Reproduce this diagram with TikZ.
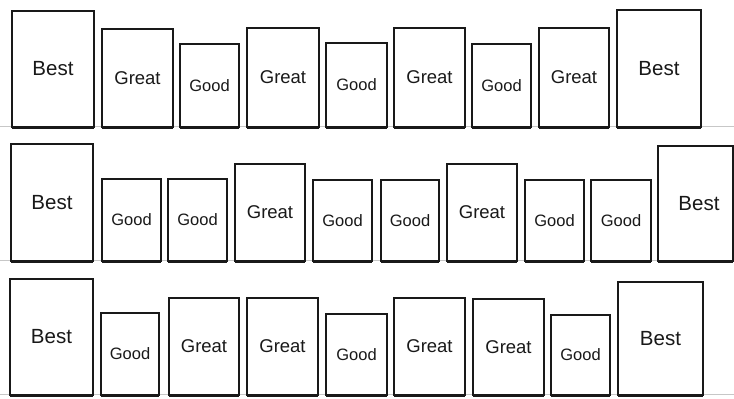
\documentclass[tikz,border=0pt]{standalone}
\usepackage{fontspec}
\setmainfont{Liberation Sans}
\begin{document}
\begin{tikzpicture}[x=1pt,y=-1pt,
  bx/.style={draw=black!90, line width=2.3pt, fill=white, inner sep=0pt, outer sep=0pt, text=black!90},
  best/.style={bx, font=\fontsize{20.5}{24}\selectfont},
  great/.style={bx, font=\fontsize{18.5}{22}\selectfont},
  good/.style={bx, font=\fontsize{16.5}{20}\selectfont},
  shelf/.style={draw=black!22, line width=0.5pt},
  base/.style={draw=black!90, line width=3pt}]
\useasboundingbox (0,0) rectangle (734,399);
\fill[white] (0,0) rectangle (734,399);
% macro: name, x1, x2, top, bottom, style, text
\newcommand\shelfitem[7]{%
  \node[#6, minimum width={(#3-#2)*1pt}, minimum height={(#5-#4)*1pt}] (#1) at ({(#2+#3)/2},{(#4+#5)/2}) {#7};
  \draw[base] (#1.south west) -- (#1.south east);
}
% shelf lines
\draw[shelf] (0,126) -- (734,126);
\draw[shelf] (0,260) -- (734,260);
\draw[shelf] (0,394) -- (734,394);
% row 1
\shelfitem{a1}{12}{94}{11}{127}{best}{Best}
\shelfitem{a2}{102}{173}{29}{127}{great}{Great}
\shelfitem{a3}{180}{239}{44}{127}{good}{Good}
\shelfitem{a4}{247}{319}{28}{127}{great}{Great}
\shelfitem{a5}{326}{387}{43}{127}{good}{Good}
\shelfitem{a6}{394}{465}{28}{127}{great}{Great}
\shelfitem{a7}{472}{531}{44}{127}{good}{Good}
\shelfitem{a8}{539}{609}{28}{127}{great}{Great}
\shelfitem{a9}{617}{701}{10}{127}{best}{Best}
% row 2
\shelfitem{b1}{11}{93}{144}{261}{best}{Best}
\shelfitem{b2}{102}{161}{179}{261}{good}{Good}
\shelfitem{b3}{168}{227}{179}{261}{good}{Good}
\shelfitem{b4}{235}{305}{164}{261}{great}{Great}
\shelfitem{b5}{313}{372}{180}{261}{good}{Good}
\shelfitem{b6}{381}{439}{180}{261}{good}{Good}
\shelfitem{b7}{447}{517}{164}{261}{great}{Great}
\shelfitem{b8}{525}{584}{180}{261}{good}{Good}
\shelfitem{b9}{591}{651}{180}{261}{good}{Good}
\shelfitem{b10}{658}{733}{146}{261}{best}{\hspace*{7pt}Best}
% row 3
\shelfitem{c1}{10}{93}{279}{395}{best}{Best}
\shelfitem{c2}{101}{159}{313}{395}{good}{Good}
\shelfitem{c3}{169}{239}{298}{395}{great}{Great}
\shelfitem{c4}{247}{318}{298}{395}{great}{Great}
\shelfitem{c5}{326}{387}{314}{395}{good}{Good}
\shelfitem{c6}{394}{465}{298}{395}{great}{Great}
\shelfitem{c7}{473}{544}{299}{395}{great}{Great}
\shelfitem{c8}{551}{610}{315}{395}{good}{Good}
\shelfitem{c9}{618}{703}{282}{395}{best}{Best}
\end{tikzpicture}
\end{document}
